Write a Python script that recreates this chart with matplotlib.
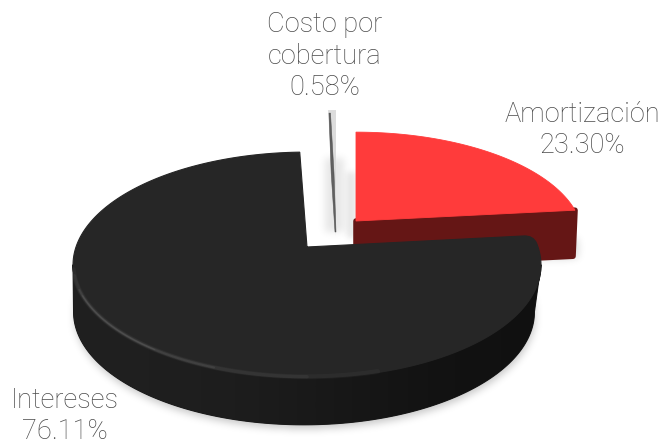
import numpy as np
import matplotlib
matplotlib.use("Agg")
import matplotlib.pyplot as plt
from matplotlib.path import Path
from matplotlib.patches import PathPatch, Polygon

labels = ["Amortización", "Intereses", "Costo por\ncobertura"]
values = [23.30, 76.11, 0.58]

plt.rcParams['font.family'] = ['Roboto', 'DejaVu Sans']

W, H = 662, 445
fig = plt.figure(figsize=(W / 100, H / 100), dpi=100)
ax = fig.add_axes([0, 0, 1, 1])
ax.set_xlim(0, W)
ax.set_ylim(H, 0)
ax.axis('off')

# slice angles, clockwise from the top
ends = np.cumsum(values) / sum(values) * 360
starts = np.concatenate([[0], ends[:-1]])

PERSP = 0.159  # the back of the pie is further away


def rim(a0, a1, apex, sx, sy, n=240):
    t = np.radians(np.linspace(a0, a1, n))
    w = 1 + PERSP * np.cos(t)
    return np.column_stack([apex[0] + sx * np.sin(t) / w, apex[1] - sy * np.cos(t) / w])


def soft(points, sigma, color, alpha, z):
    # blurred polygon, used for the soft shadows
    yy, xx = np.mgrid[0:H, 0:W]
    grid = np.column_stack([xx.ravel() + 0.5, yy.ravel() + 0.5])
    mask = Path(points).contains_points(grid).reshape(H, W).astype(float)
    size = int(3 * sigma) * 2 + 1
    kernel = np.exp(-0.5 * (np.arange(size) - size // 2) ** 2 / sigma ** 2)
    kernel /= kernel.sum()
    for axis in (0, 1):
        mask = np.apply_along_axis(lambda v: np.convolve(v, kernel, mode='same'), axis, mask)
    img = np.zeros((H, W, 4))
    img[..., :3] = matplotlib.colors.to_rgb(color)
    img[..., 3] = mask * alpha
    ax.imshow(img, extent=(0, W, H, 0), zorder=z, aspect='auto', interpolation='bilinear')


# --- Intereses geometry
b_apex = np.array([307, 247])
b_s = (231, 110)
b_low = np.array([304, 294])
b_low_s = (227.5, 110)
b_top = rim(starts[1] + 4, ends[1], b_apex, *b_s)
b_corner = rim(starts[1], starts[1], b_apex, *b_s, n=1)[0]
b_edge = b_apex + (b_corner - b_apex) * 0.96
b_wall = np.vstack([rim(99, 261, b_apex, *b_s), rim(99, 261, b_low, *b_low_s)[::-1]])
# only the front half throws a shadow, the gap at the back stays clean
b_under = rim(85, 275, b_low, *b_low_s)

# --- Amortización geometry
r_apex = np.array([356, 221])
r_s = (224, 103)
r_depth = 46
r_top = rim(starts[0], ends[0], r_apex, *r_s)
r_corner = r_top[-1]

# --- Costo por cobertura geometry
c_apex = np.array([336, 236])
c_top = rim(starts[2], 360, c_apex, 255, 146, n=10)

# ground shadow
soft(b_under + [1, 4], 4, '#000000', 0.22, 1)
soft(np.array([r_corner + [-60, 42], r_corner + [3, 28], r_corner + [3, 48], r_corner + [-60, 50]]),
     4, '#000000', 0.16, 1)

# shadows in the gap
soft(np.array([[325, 158], [344, 158], [344, 232], [325, 232]]), 4, '#000000', 0.10, 2)
soft(np.array([[347, 172], [356, 172], [356, 238], [347, 238]]), 3, '#000000', 0.10, 2)

# thin slice
ax.add_patch(Polygon(np.vstack([c_top, [c_apex]]), closed=True, fc='#dcdcdc', ec='none', zorder=3))
c_left = c_top[0]
c_mid = c_left + (c_apex - c_left) * 0.5
c_dark = np.array([c_left + [1, 3], c_left + [2.5, 3], c_mid + [2, 0], c_apex + [0, -4],
                   c_apex + [-1, -4], c_mid + [-0.8, 0]])
ax.add_patch(Polygon(c_dark, closed=True, fc='#4a4a4a', ec='#4a4a4a', lw=0.4, alpha=0.85, zorder=3.1))

# red slice
r_face = np.array([r_apex, r_corner, r_corner + [-2, r_depth], r_apex + [0, r_depth]])
ax.add_patch(Polygon(r_face, closed=True, fc='#651615', ec='#651615', lw=4, joinstyle='round', zorder=4))
ax.add_patch(Polygon(np.vstack([r_top, [r_apex]]), closed=True, fc='#ff3b3b', ec='#ff3b3b',
                     lw=0.6, zorder=5))

# black slice: side wall with a left to right gradient, then the top face
wall = Polygon(b_wall, closed=True, fc='#1a1a1a', ec='#1a1a1a', lw=0.8, zorder=6)
ax.add_patch(wall)
shade = np.array([[0.125, 0.12, 0.115, 0.10, 0.085, 0.07, 0.065]])
grad = ax.imshow(shade, extent=(60, 550, 445, 237), cmap='gray', vmin=0, vmax=1, aspect='auto',
                 interpolation='bicubic', zorder=6.1)
grad.set_clip_path(wall)

verts = [b_apex, b_edge, b_corner, b_top[0]] + list(b_top[1:]) + [b_apex]
codes = [Path.MOVETO, Path.LINETO, Path.CURVE3, Path.CURVE3] + [Path.LINETO] * len(b_top)
ax.add_patch(PathPatch(Path(verts, codes), fc='#262626', ec='#262626', lw=0.8, zorder=7))

# lit edge between top and wall, brightest at the lower left
for a0, a1, lw, a in [(165, 258, 3.5, 0.06), (180, 255, 2.5, 0.08), (200, 248, 1.5, 0.12), (215, 245, 1.0, 0.14)]:
    ax.plot(*rim(a0, a1, b_apex + [0, -1], *b_s).T, color='#999999', lw=lw, alpha=a,
            solid_capstyle='round', zorder=8)

# labels
text_kw = dict(ha='center', va='center', fontsize=19.6, color='#4a4a4a', fontweight='light',
               linespacing=1.22, zorder=10)
pct = [f"{v:.2f}%" for v in values]
ax.text(582, 130, f"{labels[0]}\n{pct[0]}", **text_kw)
ax.text(65, 416, f"{labels[1]}\n{pct[1]}", **text_kw)
ax.text(325, 56, f"{labels[2]}\n{pct[2]}", **text_kw)

fig.savefig("out.png", dpi=100)
